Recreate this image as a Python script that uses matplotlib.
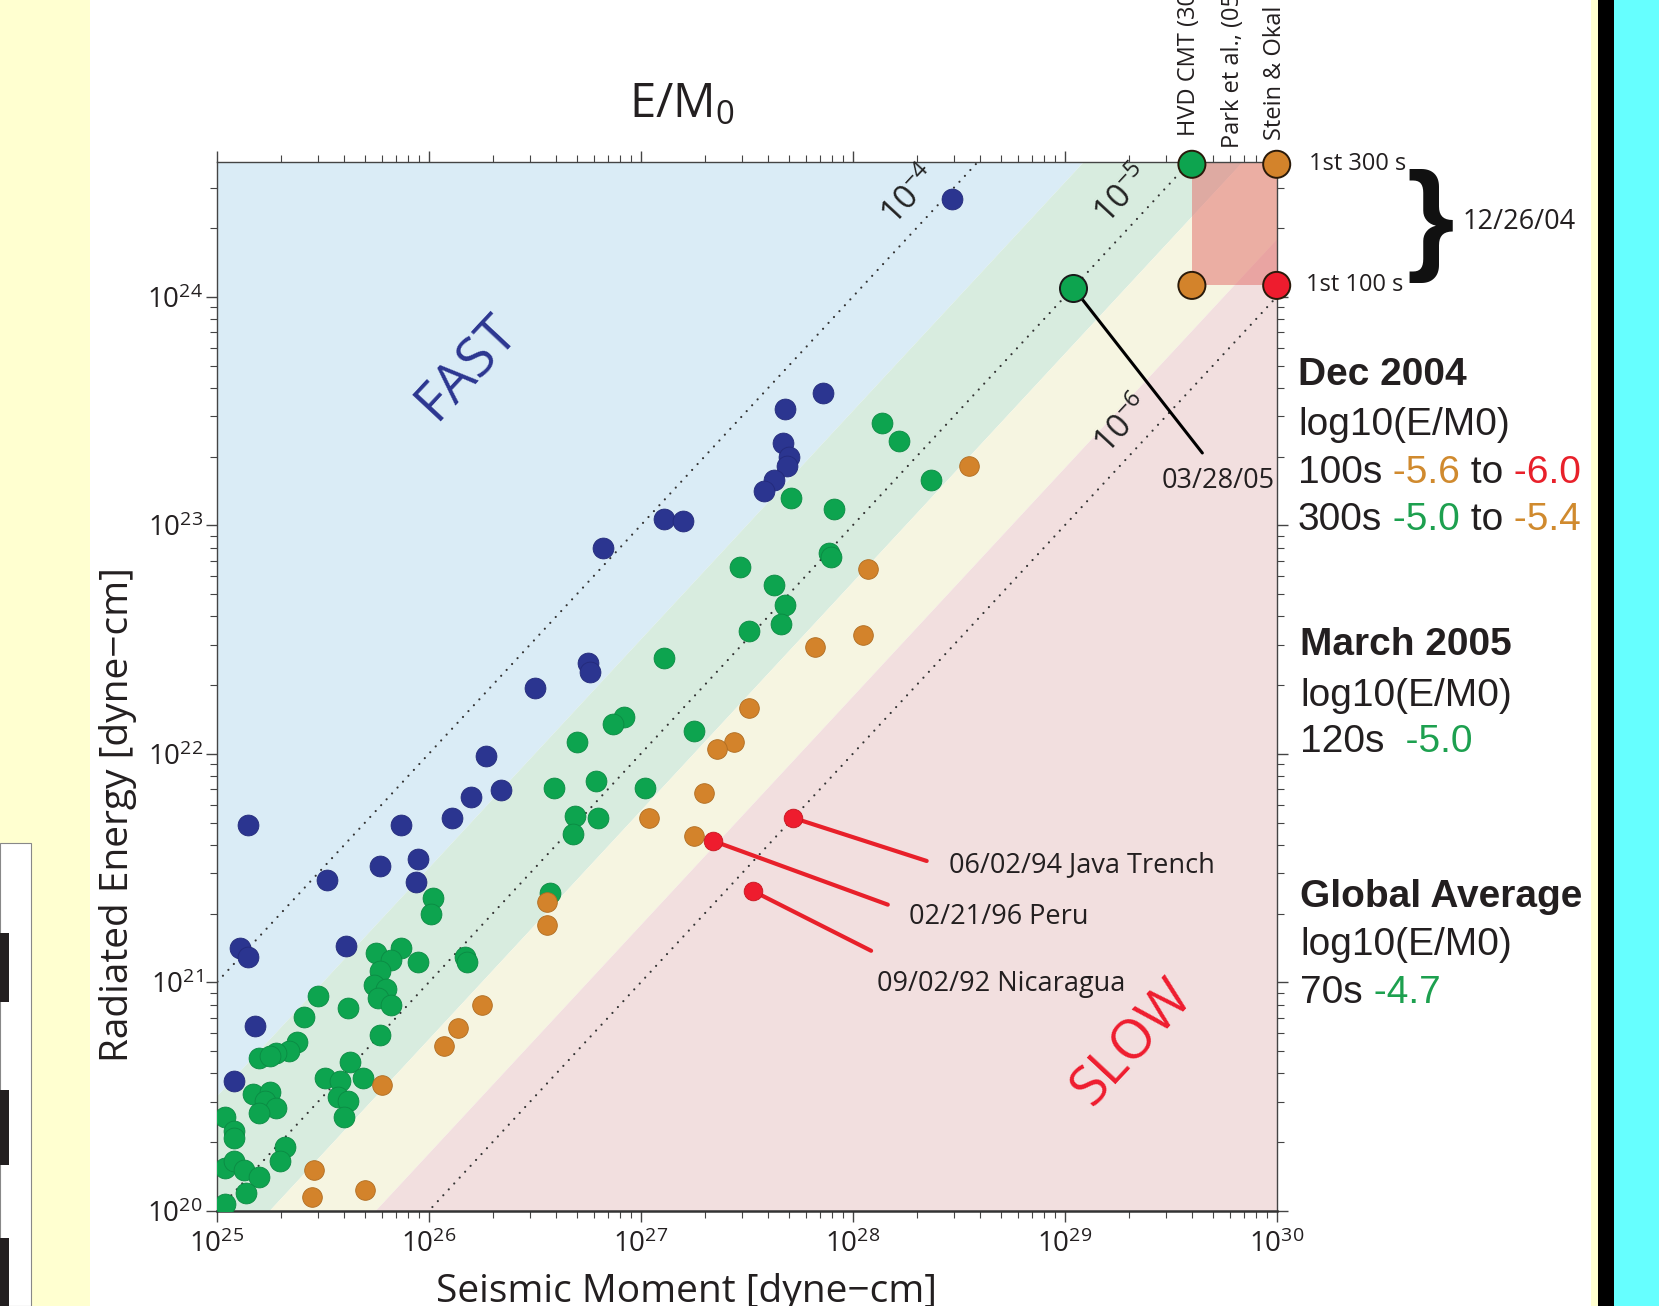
import numpy as np
import matplotlib.pyplot as plt
from matplotlib.patches import Rectangle
from matplotlib.ticker import NullFormatter

plt.rcParams['font.family'] = ['Open Sans', 'DejaVu Sans']
plt.rcParams['mathtext.fontset'] = 'custom'
plt.rcParams['mathtext.rm'] = 'Open Sans'
plt.rcParams['mathtext.it'] = 'Open Sans:italic'
plt.rcParams['mathtext.bf'] = 'Open Sans:bold'

# ---- data (log10 of seismic moment [dyne-cm], log10 of radiated energy [dyne-cm]) ----
blue_logM = [25.15, 25.87, 26.11, 26.20, 26.34, 26.27, 25.77, 25.95, 25.94, 25.52,
             25.11, 25.15, 25.61, 25.18, 25.08, 26.75, 26.76, 26.50, 28.47, 27.86,
             27.68, 27.67, 27.70, 27.69, 27.63, 27.58, 27.11, 27.20, 26.82]
blue_logE = [21.69, 21.69, 21.72, 21.81, 21.84, 21.99, 21.51, 21.54, 21.44, 21.45,
             21.15, 21.11, 21.16, 20.81, 20.57, 22.40, 22.36, 22.29, 24.43, 23.58,
             23.51, 23.36, 23.30, 23.26, 23.20, 23.15, 23.03, 23.02, 22.90]

green_logM = [26.59, 26.79, 27.02, 26.69, 26.80, 26.68, 26.57, 26.02, 26.01, 25.75,
              25.87, 25.82, 25.77, 25.95, 26.17, 26.18, 25.74, 25.80, 25.76, 25.82,
              25.48, 25.62, 25.41, 25.77, 25.38, 25.34, 25.28, 25.20, 25.25, 25.63,
              25.51, 25.58, 25.69, 25.57, 25.62, 25.60, 25.17, 25.25, 25.23, 25.28,
              25.20, 25.04, 25.08, 25.08, 25.32, 25.30, 25.04, 25.08, 25.13, 25.20,
              25.14, 25.04, 27.47, 27.63, 27.68, 27.66, 27.51, 27.11, 26.92, 26.87,
              26.70, 27.25, 28.14, 28.22, 28.37, 27.71, 27.91, 27.89, 27.90]
green_logE = [21.85, 21.88, 21.85, 21.73, 21.72, 21.65, 21.39, 21.37, 21.30, 21.13,
              21.15, 21.10, 21.05, 21.09, 21.11, 21.09, 20.99, 20.97, 20.93, 20.90,
              20.94, 20.89, 20.85, 20.77, 20.74, 20.70, 20.69, 20.67, 20.68, 20.65,
              20.58, 20.57, 20.58, 20.50, 20.48, 20.41, 20.51, 20.52, 20.48, 20.45,
              20.43, 20.41, 20.35, 20.32, 20.28, 20.22, 20.19, 20.22, 20.18, 20.15,
              20.08, 20.03, 22.82, 22.74, 22.65, 22.57, 22.54, 22.42, 22.16, 22.13,
              22.05, 22.10, 23.45, 23.37, 23.20, 23.12, 23.07, 22.88, 22.86]

orange_logM = [27.04, 26.56, 26.56, 26.25, 26.14, 26.07, 25.78, 25.46, 25.45, 25.70,
               28.07, 28.05, 27.82, 27.51, 27.44, 27.36, 27.30, 27.25, 28.55]
orange_logE = [21.72, 21.35, 21.25, 20.90, 20.80, 20.72, 20.55, 20.18, 20.06, 20.09,
               22.81, 22.52, 22.47, 22.20, 22.05, 22.02, 21.83, 21.64, 23.26]

event_names = ['06/02/94 Java Trench', '02/21/96 Peru', '09/02/92 Nicaragua']
event_logM = [27.72, 27.34, 27.53]
event_logE = [21.72, 21.62, 21.40]

sumatra05_logM, sumatra05_logE = 29.04, 24.04

# 12/26/04 estimates: HVD CMT / Park et al. / Stein & Okal, 1st 300 s and 1st 100 s
dec04_logM = [29.60, 30.00, 29.60, 30.00]
dec04_logE = [24.58, 24.58, 24.05, 24.05]
dec04_colors = ['#0DA44F', '#D3832B', '#D3832B', '#EE1C2E']

band_edges = [-4.5, -5.25, -5.75]          # log10(E/M0) band limits
band_colors = ['#DAECF6', '#D8ECDF', '#F6F5E1', '#F2DFDF']
ref_ratios = [-4, -5, -6]

BLUE, GREEN, ORANGE, RED = '#2B3590', '#0DA44F', '#D3832B', '#EE1C2E'

W, H = 1659, 1306
fig = plt.figure(figsize=(W / 100, H / 100), dpi=100)


def fx(px):
    return px / W


def fy(py):
    return 1 - py / H


def frect(x0, y0, x1, y1, color, **kw):
    fig.add_artist(Rectangle((fx(x0), fy(y1)), fx(x1) - fx(x0), fy(y0) - fy(y1),
                             transform=fig.transFigure, facecolor=color,
                             edgecolor=kw.pop('edgecolor', 'none'), zorder=-5, **kw))


# page decorations around the slide
frect(0, 0, 90, H, '#FFFFD0')
frect(0, 843, 31, H, 'white', edgecolor='#888', lw=0.8)
for y0, y1 in [(933, 1002), (1090, 1165), (1238, H)]:
    frect(0, y0, 9, y1, '#231F20')
frect(1591, 0, 1598, H, '#FFFFD0')
frect(1598, 0, 1614, H, 'black')
frect(1614, 0, W, H, '#66FFFF')

ax = fig.add_axes([fx(216.7), fy(1211), (1276.7 - 216.7) / W, (1211 - 162) / H])
ax.set_xscale('log')
ax.set_yscale('log')
ax.set_xlim(1e25, 1e30)
ax.set_ylim(1e20, 10 ** 24.59)

# background bands of constant E/M0
M = np.array([1e24, 1e31])
upper = np.full(2, 1e26)
for i, col in enumerate(band_colors):
    top = upper if i == 0 else 10.0 ** band_edges[i - 1] * M
    bot = 10.0 ** band_edges[i] * M if i < len(band_edges) else np.full(2, 1e18)
    ax.fill_between(M, bot, top, color=col, lw=0, zorder=0)

for r in ref_ratios:
    ax.plot(M, 10.0 ** r * M, color='#333333', lw=1.6,
            linestyle=(0, (0.01, 3.6)), dash_capstyle='round', zorder=1)

ax.add_patch(Rectangle((10 ** 29.6, 10 ** 24.05), 10 ** 30 - 10 ** 29.6,
                       10 ** 24.59 - 10 ** 24.05, facecolor='#E37571', alpha=0.55,
                       lw=0, zorder=2))

for lm, le, r in [(28.275, 24.44, -4), (29.275, 24.446, -5), (29.275, 23.44, -6)]:
    ax.text(10 ** lm, 10 ** le, r'$10^{%d}$' % r, rotation=47, fontsize=24,
            ha='center', va='center', rotation_mode='anchor', color='#222')

ax.text(10 ** 26.18, 10 ** 23.69, 'FAST', rotation=47, fontsize=39, color=BLUE,
        ha='center', va='center', rotation_mode='anchor')
ax.text(10 ** 29.32, 10 ** 20.735, 'SLOW', rotation=47, fontsize=39, color=RED,
        ha='center', va='center', rotation_mode='anchor')

ax.scatter(10.0 ** np.array(blue_logM), 10.0 ** np.array(blue_logE), s=225,
           color=BLUE, edgecolor='#232a7a', lw=0.6, zorder=3)
ax.scatter(10.0 ** np.array(green_logM), 10.0 ** np.array(green_logE), s=225,
           color=GREEN, edgecolor='#0b8a43', lw=0.6, zorder=3)
ax.scatter(10.0 ** np.array(orange_logM), 10.0 ** np.array(orange_logE), s=200,
           color=ORANGE, edgecolor='#b06d22', lw=0.6, zorder=3)

# named events with red leader lines
line_offsets = [(96, -31), (126, -46), (85, -43)]
label_offsets = [(112, -34), (141, -55), (89, -67)]
for name, lm, le, lo, to in zip(event_names, event_logM, event_logE,
                                line_offsets, label_offsets):
    ax.annotate('', xy=(10 ** lm, 10 ** le), xytext=lo, textcoords='offset points',
                arrowprops=dict(arrowstyle='-', color='#E8202A', lw=3,
                                shrinkA=0, shrinkB=0), zorder=3)
    ax.annotate(name, xy=(10 ** lm, 10 ** le), xytext=to, textcoords='offset points',
                fontsize=19.5, color='#231F20', ha='left', va='center')
ax.scatter(10.0 ** np.array(event_logM), 10.0 ** np.array(event_logE), s=180,
           color=RED, edgecolor='#c5161f', lw=0.6, zorder=4)

# 03/28/05 event
ax.annotate('', xy=(10 ** sumatra05_logM, 10 ** sumatra05_logE), xytext=(93, -119),
            textcoords='offset points',
            arrowprops=dict(arrowstyle='-', color='black', lw=2.2, shrinkA=0, shrinkB=0),
            zorder=3)
ax.annotate('03/28/05', xy=(10 ** sumatra05_logM, 10 ** sumatra05_logE),
            xytext=(145, -139), textcoords='offset points', fontsize=19.5,
            color='#231F20', ha='right', va='center')
ax.scatter([10 ** sumatra05_logM], [10 ** sumatra05_logE], s=380, color=GREEN,
           edgecolor='#1a1a1a', lw=1.4, zorder=5)

ax.scatter(10.0 ** np.array(dec04_logM), 10.0 ** np.array(dec04_logE), s=380,
           c=dec04_colors, edgecolor='#2a1a0a', lw=1.4, zorder=5, clip_on=False)
ax.annotate('1st 300 s', xy=(1e30, 10 ** 24.58), xytext=(23, 0),
            textcoords='offset points', fontsize=17, color='#231F20', va='center',
            annotation_clip=False)
ax.annotate('1st 100 s', xy=(1e30, 10 ** 24.05), xytext=(21, 0),
            textcoords='offset points', fontsize=17, color='#231F20', va='center',
            annotation_clip=False)

# axes styling
for side in ['left', 'top', 'right']:
    ax.spines[side].set_color('#444')
    ax.spines[side].set_linewidth(1.0)
ax.spines['bottom'].set_color('#333')
ax.spines['bottom'].set_linewidth(1.8)
ax.tick_params(which='both', direction='out', top=True, right=True,
               color='#444', labelsize=20, labelcolor='#231F20')
ax.tick_params(which='major', length=8, width=1.0)
ax.tick_params(which='minor', length=5, width=0.8)
ax.tick_params(axis='x', pad=6)
ax.tick_params(axis='y', pad=2)
ax.xaxis.set_minor_formatter(NullFormatter())
ax.yaxis.set_minor_formatter(NullFormatter())

fig.text(fx(686), fy(1273), 'Seismic Moment [dyne\u2212cm]', fontsize=28,
         ha='center', va='top', color='#231F20')
fig.text(fx(118), fy(815), 'Radiated Energy [dyne\u2212cm]', fontsize=28,
         rotation=90, ha='center', va='center', color='#231F20')
fig.text(fx(682), fy(104), r'E/M$_0$', fontsize=34, ha='center', va='center',
         color='#231F20')

# column labels for the 12/26/04 estimates (run off the top of the page)
for x, y, s in [(1189, 136, 'HVD CMT (300 s)'), (1233, 148, 'Park et al., (05)'),
                (1275, 140, 'Stein & Okal (05)')]:
    fig.text(fx(x), fy(y), s, rotation=90, fontsize=17, ha='center', va='bottom',
             color='#231F20')

fig.text(fx(1430), fy(226), '}', fontsize=88, family='Liberation Sans',
         weight='bold', ha='center', va='center', color='#111')
fig.text(fx(1463), fy(222), '12/26/04', fontsize=19.5, va='center', color='#231F20')

# summary block on the right
SANS = 'Liberation Sans'
TXT_ORANGE, TXT_GREEN, TXT_RED = '#D08A2E', '#1DA04F', '#E8202A'


def text_line(x, y, parts, bold=False):
    t = fig.text(fx(x), fy(y), parts[0][0], color=parts[0][1], fontsize=28,
                 family=SANS, weight='bold' if bold else 'normal', va='center')
    for s, c in parts[1:]:
        t = ax.annotate(s, xy=(1, 0), xycoords=t, color=c, fontsize=28, family=SANS,
                        va='bottom', ha='left', annotation_clip=False)


K = '#231F20'
text_line(1298, 375, [('Dec 2004', K)], bold=True)
text_line(1298, 425, [('log10(E/M0)', K)])
text_line(1298, 473, [('100s', K), (' -5.6', TXT_ORANGE), (' to', K), (' -6.0', TXT_RED)])
text_line(1298, 520, [('300s', K), (' -5.0', TXT_GREEN), (' to', K), (' -5.4', TXT_ORANGE)])
text_line(1300, 645, [('March 2005', K)], bold=True)
text_line(1300, 696, [('log10(E/M0)', K)])
text_line(1300, 742, [('120s', K), ('  -5.0', TXT_GREEN)])
text_line(1300, 897, [('Global Average', K)], bold=True)
text_line(1300, 945, [('log10(E/M0)', K)])
text_line(1300, 993, [('70s', K), (' -4.7', TXT_GREEN)])

fig.savefig('out.png', dpi=100)
